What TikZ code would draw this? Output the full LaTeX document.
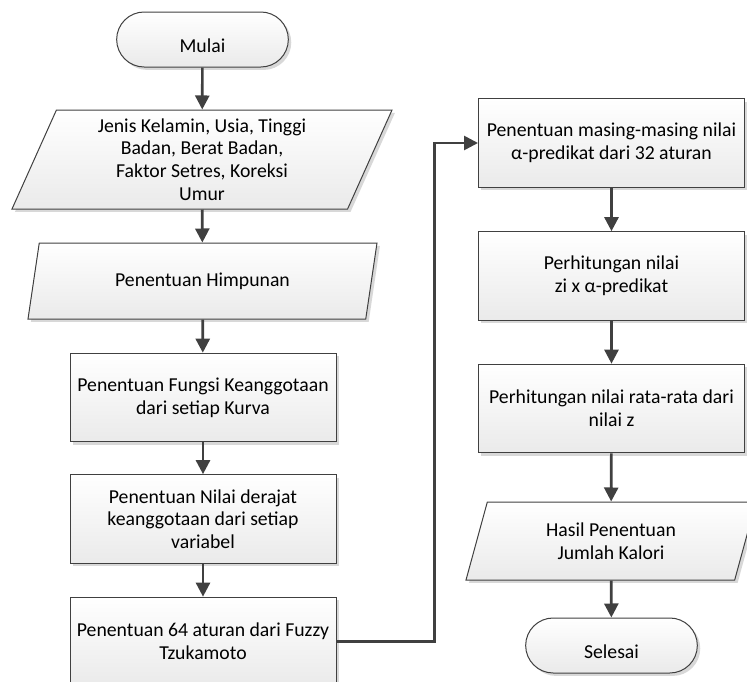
\documentclass[tikz,border=0pt]{standalone}
\usepackage{fontspec}
\setmainfont{Carlito}
\usetikzlibrary{arrows.meta}
\usetikzlibrary{shapes.geometric, shapes.misc}
\usetikzlibrary{shadows}
\definecolor{mygray}{RGB}{64,64,64}
\definecolor{myfill}{RGB}{234,234,234}

\tikzset{
  base/.style={draw=mygray, line width=0.75pt, top color=white, bottom color=myfill,
    align=center, inner sep=2pt, font=\fontsize{14.8}{17}\selectfont,
    drop shadow={shadow xshift=2.2pt, shadow yshift=-2.2pt, fill=black!30, opacity=0.5}},
  terminal/.style={base, rounded rectangle, minimum width=132.75pt, minimum height=41.25pt,
    text height=19pt, text depth=0pt},
  process/.style={base, rectangle, minimum width=199.5pt, minimum height=66.5pt},
  io/.style={base, trapezium, trapezium left angle=63, trapezium right angle=117,
    trapezium stretches body},
  arr/.style={-{Triangle[width=10.5pt,length=10.5pt]}, draw=mygray, line width=2pt}
}

\begin{document}
\begin{tikzpicture}[x=0.75pt, y=-0.75pt]
\useasboundingbox (0,0) rectangle (747,682);
\clip (0,0) rectangle (747,682);

%left column
\node[terminal] (mulai) at (202.5,39.5) {Mulai};
\node[io, minimum width=285pt, minimum height=74.25pt] (input) at (202,159.5)
  {Jenis Kelamin, Usia, Tinggi\\Badan, Berat Badan,\\Faktor Setres, Koreksi\\Umur};
\node[io, minimum width=261.75pt, minimum height=57pt] (himp) at (202.5,281) {Penentuan Himpunan};
\node[process] (fungsi) at (203,397.5) {Penentuan Fungsi Keanggotaan\\dari setiap Kurva};
\node[process] (derajat) at (203,519) {Penentuan Nilai derajat\\keanggotaan dari setiap\\variabel};
\node[process] (aturan) at (203,641.5) {Penentuan 64 aturan dari Fuzzy\\Tzukamoto};

%right column
\node[process] (alpha) at (611.5,143) {Penentuan masing-masing nilai\\α-predikat dari 32 aturan};
\node[process] (zi) at (611.5,276) {Perhitungan nilai\\zi x α-predikat};
\node[process] (rata) at (611.5,408.5) {Perhitungan nilai rata-rata dari\\nilai z};
\node[io, minimum width=217.5pt, minimum height=58.5pt] (hasil) at (611,541)
  {Hasil Penentuan\\Jumlah Kalori};
\node[terminal] (selesai) at (611.5,645.5) {Selesai};

%arrows
\draw[arr] (mulai) -- (input);
\draw[arr] (input) -- (himp);
\draw[arr] (himp) -- (fungsi);
\draw[arr] (fungsi) -- (derajat);
\draw[arr] (derajat) -- (aturan);
\draw[arr] (aturan.east) -- ++(98,0) |- (alpha.west);
\draw[arr] (alpha) -- (zi);
\draw[arr] (zi) -- (rata);
\draw[arr] (rata) -- (hasil);
\draw[arr] (hasil) -- (selesai);

\end{tikzpicture}
\end{document}
